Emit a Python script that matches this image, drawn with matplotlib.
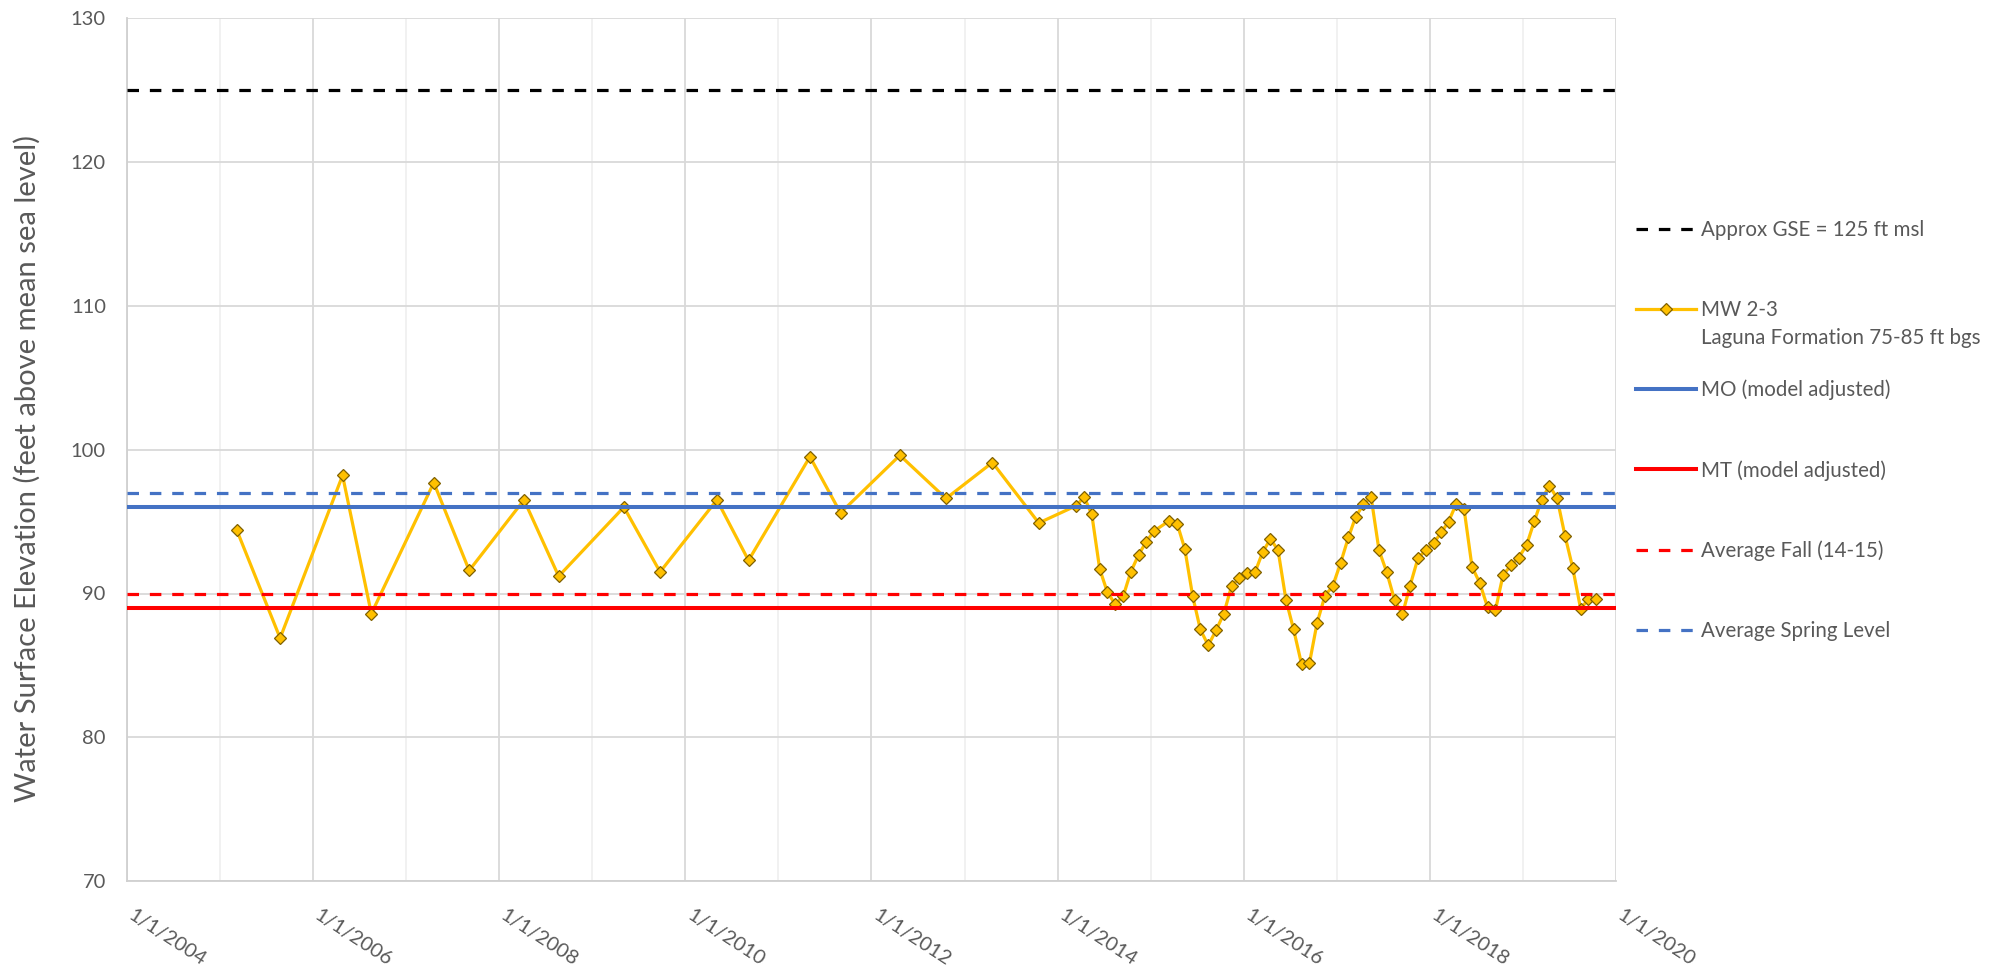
import matplotlib
matplotlib.use("Agg")
import matplotlib.pyplot as plt
from matplotlib.transforms import ScaledTranslation
import numpy as np
import pandas as pd

plt.rcParams['font.family'] = ['Lato', 'DejaVu Sans']

# ---------------- data ----------------
survey_dates = [
    "2005-03-08", "2005-08-25", "2006-04-27", "2006-08-18", "2007-04-20", "2007-09-06",
    "2008-04-08", "2008-08-22", "2009-05-05", "2009-09-24", "2010-05-05", "2010-09-06",
    "2011-05-05", "2011-09-02", "2012-04-22", "2012-10-20", "2013-04-20", "2013-10-19",
    "2014-03-15", "2014-04-15", "2014-05-15", "2014-06-15", "2014-07-15", "2014-08-15",
    "2014-09-15", "2014-10-15", "2014-11-15", "2014-12-15", "2015-01-15", "2015-03-15",
    "2015-04-15", "2015-05-15", "2015-06-15", "2015-07-15", "2015-08-15", "2015-09-15",
    "2015-10-15", "2015-11-15", "2015-12-15", "2016-01-15", "2016-02-15", "2016-03-15",
    "2016-04-15", "2016-05-15", "2016-06-15", "2016-07-15", "2016-08-15", "2016-09-15",
    "2016-10-15", "2016-11-15", "2016-12-15", "2017-01-15", "2017-02-15", "2017-03-15",
    "2017-04-15", "2017-05-15", "2017-06-15", "2017-07-15", "2017-08-15", "2017-09-15",
    "2017-10-15", "2017-11-15", "2017-12-15", "2018-01-15", "2018-02-15", "2018-03-15",
    "2018-04-15", "2018-05-15", "2018-06-15", "2018-07-15", "2018-08-15", "2018-09-15",
    "2018-10-15", "2018-11-15", "2018-12-15", "2019-01-15", "2019-02-15", "2019-03-15",
    "2019-04-15", "2019-05-15", "2019-06-15", "2019-07-15", "2019-08-15", "2019-09-15",
    "2019-10-15",
]
mw23_elev = [
    94.4, 86.9, 98.2, 88.6, 97.7, 91.6,
    96.5, 91.2, 96.0, 91.5, 96.5, 92.3,
    99.5, 95.6, 99.6, 96.6, 99.1, 94.9,
    96.1, 96.7, 95.5, 91.7, 90.1, 89.25,
    89.8, 91.5, 92.7, 93.6, 94.35, 95.05,
    94.85, 93.1, 89.8, 87.5, 86.4, 87.45,
    88.6, 90.55, 91.05, 91.45, 91.5, 92.85,
    93.8, 93.0, 89.55, 87.5, 85.1, 85.15,
    87.95, 89.85, 90.5, 92.1, 93.9, 95.3,
    96.2, 96.7, 93.0, 91.5, 89.55, 88.55,
    90.55, 92.45, 93.0, 93.5, 94.25, 95.0,
    96.25, 95.85, 91.85, 90.75, 89.05, 88.85,
    91.3, 91.95, 92.5, 93.35, 95.05, 96.5,
    97.5, 96.6, 94.0, 91.8, 88.95, 89.6,
    89.6,
]
series_label = "MW 2-3"
series_sublabel = "Laguna Formation 75-85 ft bgs"

gse_level, gse_label = 125, "Approx GSE = 125 ft msl"
mo_level, mo_label = 96, "MO (model adjusted)"
mt_level, mt_label = 89, "MT (model adjusted)"
fall_level, fall_label = 90, "Average Fall (14-15)"
spring_level, spring_label = 97, "Average Spring Level"

y_ticks = [70, 80, 90, 100, 110, 120, 130]
x_major_years = list(range(2004, 2021, 2))
x_minor_years = list(range(2005, 2020, 2))
y_label = "Water Surface Elevation (feet above mean sea level)"

# ---------------- figure ----------------
W, H = 1997, 972
fig = plt.figure(figsize=(W / 100, H / 100), dpi=100)
ax = fig.add_axes([126.7 / W, 1 - 881.4 / H, (1616 - 126.7) / W, (881.4 - 17.7) / H])

text_color = "#595959"
grid_major = "#D9D9D9"
grid_minor = "#F0F0F0"

dates = pd.to_datetime(survey_dates)

# series
mw_line, = ax.plot(dates, mw23_elev, color="#FFC000", lw=2.3, marker="D", ms=6.0,
                   mfc="#FFC000", mec="#7F6000", mew=0.9, zorder=3, label=series_label)

dash = (3.6, 3.4)
h_gse = ax.axhline(gse_level, color="black", lw=2.3, dashes=dash, zorder=4, label=gse_label)
h_mo = ax.axhline(mo_level, color="#4472C4", lw=2.9, zorder=4, label=mo_label)
h_mt = ax.axhline(mt_level, color="#FF0000", lw=2.9, zorder=4, label=mt_label)
h_fall = ax.axhline(fall_level, color="#FF0000", lw=2.3, dashes=dash, zorder=4, label=fall_label)
h_spring = ax.axhline(spring_level, color="#4472C4", lw=2.3, dashes=dash, zorder=4, label=spring_label)

# axes ranges / ticks
ax.set_xlim(pd.Timestamp("2004-01-01"), pd.Timestamp("2020-01-01"))
ax.set_ylim(y_ticks[0], y_ticks[-1])
ax.set_yticks(y_ticks)
ax.set_xticks(pd.to_datetime([f"{y}-01-01" for y in x_major_years]))
ax.set_xticks(pd.to_datetime([f"{y}-01-01" for y in x_minor_years]), minor=True)
ax.set_xticklabels([f"1/1/{y}" for y in x_major_years], rotation=-33, ha="left", va="top",
                   rotation_mode="anchor")

ax.grid(which="major", axis="both", color=grid_major, lw=1.3, zorder=0)
ax.grid(which="minor", axis="x", color=grid_minor, lw=1.3, zorder=0)
ax.set_axisbelow(True)
ax.tick_params(axis="both", which="both", length=0, colors=text_color, labelsize=14.5)
ax.tick_params(axis="y", pad=15)
ax.tick_params(axis="x", pad=18)
for side in ["top", "right"]:
    ax.spines[side].set_visible(False)
for side in ["left", "bottom"]:
    ax.spines[side].set_color("#D0D0D0")
    ax.spines[side].set_linewidth(1.3)

# shift rotated date labels slightly right so their ink starts at the tick
shift = ScaledTranslation(8 / 100, 0, fig.dpi_scale_trans)
for tk in ax.xaxis.get_major_ticks():
    tk.label1.set_transform(tk.label1.get_transform() + shift)

ax.set_ylabel(y_label, fontsize=21, color=text_color)
ax.yaxis.set_label_coords(-0.058, 0.4775)

# legend
handles = [h_gse, mw_line, h_mo, h_mt, h_fall, h_spring]
labels = [h.get_label() for h in handles]
leg_fs = 14.8
leg = fig.legend(handles, labels, loc="upper left", bbox_to_anchor=(1636 / W, 1 - 220 / H),
                 frameon=False, fontsize=leg_fs, handlelength=2.9, handletextpad=0.25,
                 labelspacing=2.91, borderpad=0, borderaxespad=0, numpoints=1)
for t in leg.get_texts():
    t.set_color(text_color)

fig.canvas.draw()
mw_text = leg.get_texts()[1]
bb = mw_text.get_window_extent()
fig.text(bb.x0 / W, (bb.y0 - 28.5) / H, series_sublabel, fontsize=leg_fs, color=text_color,
         ha="left", va="bottom")

fig.savefig("out.png", dpi=100)
